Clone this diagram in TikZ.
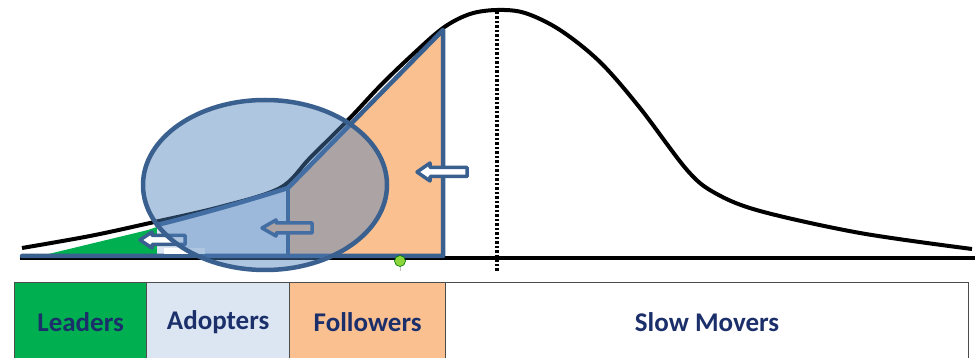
\documentclass[tikz,border=0pt]{standalone}
\usepackage{fontspec}
\setmainfont{Carlito}
\definecolor{outblue}{HTML}{3A6090}
\definecolor{leadgreen}{HTML}{00B050}
\definecolor{adoptblue}{HTML}{DCE6F2}
\definecolor{follow}{HTML}{FAC090}
\definecolor{ellblue}{HTML}{4F81BD}
\definecolor{navy}{HTML}{1B2F6B}
\definecolor{dotgreen}{HTML}{8CD63C}
\newcommand{\LeftBlockArrow}[7]{% tip x, tail x, centre y, head length, head half, shaft half, fill
  \draw[outl, line width=3.5pt, fill=#7] (#1,#3) -- (#1+#4,#3-#5) -- (#1+#4,#3-#6) -- (#2,#3-#6)
    -- (#2,#3+#6) -- (#1+#4,#3+#6) -- (#1+#4,#3+#5) -- cycle;}
\begin{document}
\begin{tikzpicture}[x=1pt,y=-1pt,
  outl/.style={draw=outblue, line width=4.5pt, line join=round},
  cell/.style={draw=gray!60!black, line width=1.2pt, text=navy, inner sep=0pt,
    font=\bfseries\fontsize{27}{29}\selectfont, minimum height=80pt, anchor=north west}]
\useasboundingbox (0,0) rectangle (978,358);
\fill[white] (0,0) rectangle (978,358);
% axis
\draw[line width=4pt] (20,258.5) -- (975,258.5);
% bell curve
\draw[line width=4pt, line join=round] plot[smooth, tension=0.55] coordinates {
  (22,248) (90,236) (150,223) (220,207) (280,188) (310,158) (350,118) (380,86)
  (410,57) (443,28) (470,14) (497,10) (525,13) (560,30) (600,62) (640,108)
  (687,170) (715,193) (760,211) (860,233) (972,249)};
% mean line
\draw[line width=4pt, dash pattern=on 2.5pt off 2pt] (497,12) -- (497,272);
% segment fills
\fill[leadgreen] (36,257) -- (148,230) -- (157,227) -- (157,257) -- cycle;
\fill[adoptblue] (157,226) .. controls (205,214) and (250,200) .. (288,188) -- (288,257) -- (157,257) -- cycle;
\fill[follow] (288,188) -- (443,30) -- (443,257) -- (288,257) -- cycle;
% outline
\draw[outl, line cap=round] (157,225) .. controls (205,213) and (250,200) .. (288,188)
  -- (443,30) -- (443,256) -- (22,256);
\draw[outl] (288,188) -- (288,256);
% arrows
\LeftBlockArrow{417}{467}{172}{13}{9}{4.5}{white}
\LeftBlockArrow{262}{312}{228}{14}{8}{5}{follow}
\LeftBlockArrow{140}{185}{240}{12}{8}{4.5}{white}
\fill[white] (164,248) rectangle (205,254);
% ellipse
\draw[outl, fill=ellblue, fill opacity=0.45] (265,185) ellipse [x radius=122pt, y radius=85pt];
% marker dot
\draw[gray!50, line width=1pt] (400,265) -- (400,271);
\draw[draw=green!45!black, line width=0.6pt, fill=dotgreen] (400,261) circle (5.5pt);
% table
\node[cell, fill=leadgreen, minimum width=132pt] (lead) at (14,282) {Leaders};
\node[cell, fill=adoptblue, minimum width=143pt] (adopt) at (146,282) {Adopters};
\node[cell, fill=follow, minimum width=156pt] (foll) at (289,282) {Followers};
\node[cell, fill=white, minimum width=523pt] (slow) at (445,282) {Slow Movers};
\end{tikzpicture}
\end{document}
